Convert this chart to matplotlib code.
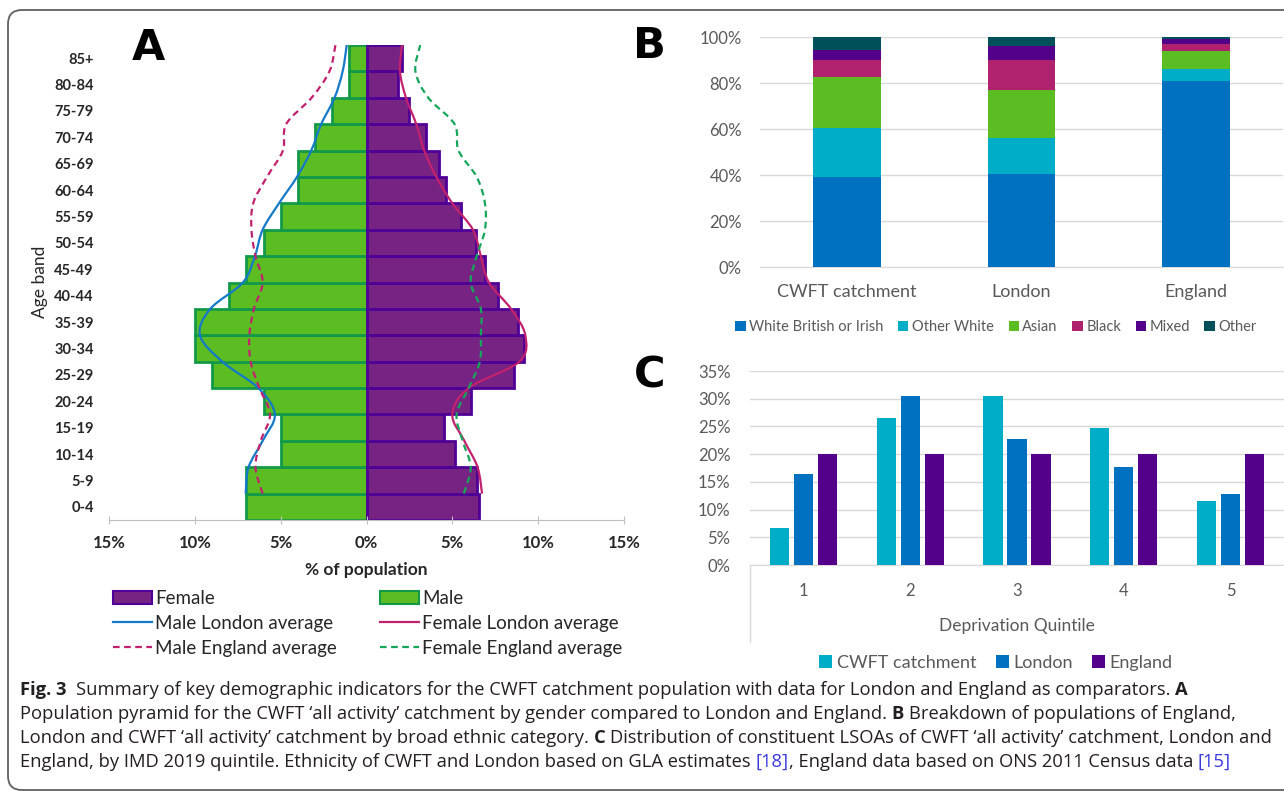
import matplotlib
matplotlib.use("Agg")
import numpy as np
import matplotlib.pyplot as plt
import matplotlib.patches as mpatches
from matplotlib.path import Path
from matplotlib.lines import Line2D
from matplotlib.transforms import IdentityTransform
from matplotlib.font_manager import FontProperties

plt.rcParams['font.family'] = ['Lato', 'DejaVu Sans']

# ---- Panel A: population pyramid (% of population), bottom band first
age_bands = ["0-4", "5-9", "10-14", "15-19", "20-24", "25-29", "30-34", "35-39", "40-44",
             "45-49", "50-54", "55-59", "60-64", "65-69", "70-74", "75-79", "80-84", "85+"]
male_pct = [7, 7, 5, 5, 6, 9, 10, 10, 8, 7, 6, 5, 4, 4, 3, 2, 1, 1]
female_pct = [6.54, 6.42, 5.18, 4.54, 6.09, 8.59, 9.2, 8.82, 7.65, 6.89, 6.38, 5.48,
              4.61, 4.21, 3.48, 2.47, 1.84, 2.07]

# comparator lines (read at the band boundaries, top of 0-4 up to top of 85+)
male_london = [7.04, 6.87, 6.05, 5.34, 6.3, 8.4, 9.7, 9.1, 7.2, 6.5, 6.05, 5.1, 4.05,
               3.22, 2.64, 1.86, 1.39, 1.15]
male_england = [6.05, 6.47, 6.16, 5.62, 6.24, 6.75, 6.82, 6.56, 6.05, 6.47, 6.7, 6.6,
                5.8, 4.87, 4.68, 3.2, 2.16, 1.81]
female_london = [6.73, 6.47, 5.7, 5.0, 5.95, 8.9, 9.25, 8.42, 7.13, 6.66, 6.2, 5.0,
                 4.07, 3.36, 2.9, 2.3, 1.95, 2.07]
female_england = [5.67, 6.07, 5.6, 5.25, 5.95, 6.6, 6.66, 6.66, 6.07, 6.42, 6.9, 6.9,
                  6.42, 5.36, 5.13, 3.6, 2.85, 3.13]
pct_ticks = [-15, -10, -5, 0, 5, 10, 15]

# ---- Panel B: ethnicity breakdown (%)
regions = ["CWFT catchment", "London", "England"]
white_british = [39.1, 40.4, 81.0]
other_white = [21.2, 15.7, 4.9]
asian = [22.2, 20.7, 7.9]
black = [7.4, 13.3, 3.3]
mixed = [4.6, 6.1, 2.0]
other = [5.5, 3.8, 0.9]
ethnic_labels = ["White British or Irish", "Other White", "Asian", "Black", "Mixed", "Other"]

# ---- Panel C: IMD 2019 quintile distribution (%)
quintiles = ["1", "2", "3", "4", "5"]
cwft_q = [6.7, 26.5, 30.4, 24.8, 11.5]
london_q = [16.4, 30.4, 22.7, 17.6, 12.8]
england_q = [20, 20, 20, 20, 20]

W, H = 1284, 791
fig = plt.figure(figsize=(W / 100, H / 100), dpi=100)


def box(l, t, r, b):
    # pixel edges (from top-left) -> figure fraction rect
    return [l / W, 1 - b / H, (r - l) / W, (b - t) / H]


def smooth_path(xs, ys):
    pts = np.column_stack([xs, ys])
    n = len(pts)
    verts = [pts[0]]
    codes = [Path.MOVETO]
    for i in range(n - 1):
        p0 = pts[max(i - 1, 0)]
        p1 = pts[i]
        p2 = pts[i + 1]
        p3 = pts[min(i + 2, n - 1)]
        verts += [p1 + (p2 - p0) / 6, p2 - (p3 - p1) / 6, p2]
        codes += [Path.CURVE4] * 3
    return Path(verts, codes)


dark = "#262626"
gray = "#595959"
grid = "#D9D9D9"

# ================= Panel A
axA = fig.add_axes(box(109, 45, 624, 520))
y = np.arange(len(age_bands))
male_fill, male_edge = "#5CBD22", "#12994A"
fem_fill, fem_edge = "#772383", "#4F0096"
axA.barh(y, [-v for v in male_pct], height=1.0, color=male_fill, edgecolor=male_edge, lw=2)
axA.barh(y, female_pct, height=1.0, color=fem_fill, edgecolor=fem_edge, lw=2)

ly = y + 0.5
c_ml, c_fl, c_me, c_fe = "#1479C8", "#C2216E", "#C2216E", "#16A65A"
axA.add_patch(mpatches.PathPatch(smooth_path([-v for v in male_london], ly),
                                 fill=False, ec=c_ml, lw=1.6))
axA.add_patch(mpatches.PathPatch(smooth_path(female_london, ly), fill=False, ec=c_fl, lw=1.6))
axA.add_patch(mpatches.PathPatch(smooth_path([-v for v in male_england], ly),
                                 fill=False, ec=c_me, lw=1.6, ls=(0, (3, 2))))
axA.add_patch(mpatches.PathPatch(smooth_path(female_england, ly),
                                 fill=False, ec=c_fe, lw=1.6, ls=(0, (3, 2))))

axA.set_xlim(-15, 15)
axA.set_ylim(-0.5, 17.5)
axA.set_xticks(pct_ticks)
axA.set_xticklabels([f"{abs(v)}%" for v in pct_ticks], fontsize=12, fontweight='bold', color=dark)
axA.set_yticks(y)
axA.set_yticklabels(age_bands, fontsize=10.5, fontweight='bold', color=dark)
axA.tick_params(axis='y', length=0, pad=11)
axA.tick_params(axis='x', direction='inout', length=6, color="#BFBFBF", pad=8)
for s in ["top", "right", "left"]:
    axA.spines[s].set_visible(False)
axA.spines["bottom"].set_color("#BFBFBF")
axA.set_xlabel("% of population", fontsize=12.5, fontweight='bold', color=dark, labelpad=8)
fig.text(40 / W, 1 - 282 / H, "Age band", rotation=90, fontsize=12.5, color=dark,
         ha='center', va='center')

handles = [
    mpatches.Patch(facecolor=fem_fill, edgecolor=fem_edge, lw=1.5),
    Line2D([], [], color=c_ml, lw=1.6),
    Line2D([], [], color=c_me, lw=1.6, ls=(0, (3, 2))),
    mpatches.Patch(facecolor=male_fill, edgecolor=male_edge, lw=1.5),
    Line2D([], [], color=c_fl, lw=1.6),
    Line2D([], [], color=c_fe, lw=1.6, ls=(0, (3, 2))),
]
labels = ["Female", "Male London average", "Male England average",
          "Male", "Female London average", "Female England average"]
fig.legend(handles, labels, ncol=2, loc='upper left', bbox_to_anchor=(113 / W, 1 - 590 / H),
           frameon=False, fontsize=13.5, handlelength=2.1, handletextpad=0.15,
           columnspacing=2.3, labelspacing=0.42, borderpad=0, borderaxespad=0,
           labelcolor=dark)

# ================= Panel B
axB = fig.add_axes(box(760, 37, 1283, 267))
xb = np.arange(len(regions))
eth_cols = ["#0070C0", "#00ADC6", "#5BBD22", "#B0226E", "#53008A", "#00505A"]
bottom = np.zeros(len(regions))
for vals, col, lab in zip([white_british, other_white, asian, black, mixed, other],
                          eth_cols, ethnic_labels):
    axB.bar(xb, vals, width=0.39, bottom=bottom, color=col, label=lab, zorder=3)
    bottom += np.array(vals)
axB.set_xlim(-0.5, 2.5)
axB.set_ylim(0, 100)
axB.set_yticks(range(0, 101, 20))
axB.set_yticklabels([f"{v}%" for v in range(0, 101, 20)], fontsize=12, color=gray)
axB.set_xticks(xb)
axB.set_xticklabels(regions, fontsize=13, color=gray)
axB.tick_params(axis='y', length=0, pad=13)
axB.tick_params(axis='x', length=0, pad=12)
axB.grid(axis='y', color=grid, lw=1, zorder=0)
for s in ["top", "right", "left"]:
    axB.spines[s].set_visible(False)
axB.spines["bottom"].set_color(grid)
fig.legend(*axB.get_legend_handles_labels(), ncol=6, loc='center',
           bbox_to_anchor=(996 / W, 1 - 327 / H), frameon=False, fontsize=10.5,
           handlelength=0.7, handleheight=0.7, handletextpad=0.25, columnspacing=1.0,
           labelcolor=gray, borderpad=0)

# ================= Panel C
axC = fig.add_axes(box(750, 371, 1284, 565))
xc = np.arange(len(quintiles))
axC.bar(xc - 0.224, cwft_q, width=0.18, color="#00ADC6", label="CWFT catchment", zorder=3)
axC.bar(xc, london_q, width=0.18, color="#0070C0", label="London", zorder=3)
axC.bar(xc + 0.224, england_q, width=0.18, color="#53008A", label="England", zorder=3)
axC.set_xlim(-0.5, 4.5)
axC.set_ylim(0, 35)
axC.set_yticks(range(0, 36, 5))
axC.set_yticklabels([f"{v}%" for v in range(0, 36, 5)], fontsize=12, color=gray)
axC.set_xticks(xc)
axC.set_xticklabels(quintiles, fontsize=12, color=gray)
axC.tick_params(axis='y', length=0, pad=14)
axC.tick_params(axis='x', length=0, pad=13)
axC.grid(axis='y', color=grid, lw=1, zorder=0)
for s in ["top", "right", "left"]:
    axC.spines[s].set_visible(False)
axC.spines["bottom"].set_color(grid)
axC.plot([0, 0], [0, -(642 - 565) / (565 - 371)], transform=axC.transAxes,
         color=grid, lw=1, clip_on=False)
axC.set_xlabel("Deprivation Quintile", fontsize=12.5, color=gray, labelpad=14)
fig.legend(*axC.get_legend_handles_labels(), ncol=3, loc='center',
           bbox_to_anchor=(996 / W, 1 - 663 / H), frameon=False, fontsize=13,
           handlelength=0.7, handleheight=0.7, handletextpad=0.25, columnspacing=1.1,
           labelcolor=gray, borderpad=0)

# panel letters
for letter, xp, yp in [("A", 148, 60), ("B", 649, 58), ("C", 650, 387)]:
    fig.text(xp / W, 1 - yp / H, letter, fontsize=31, fontweight='heavy',
             family='DejaVu Sans', ha='center', va='baseline', color='black')

# outer frame
fig.patches.append(mpatches.FancyBboxPatch((8, 1), 1300, H - 11,
                                           boxstyle='round,pad=0,rounding_size=14',
                                           transform=IdentityTransform(), fill=False,
                                           ec="#606060", lw=1.3, figure=fig))

# caption
renderer = fig.canvas.get_renderer()
cap_color = "#231F20"
ref_color = "#3A3AE0"
cap_lines = [
    [("Fig. 3", 'bold', cap_color),
     ("  Summary of key demographic indicators for the CWFT catchment population with data for London and England as comparators. ", 'normal', cap_color),
     ("A", 'bold', cap_color)],
    [("Population pyramid for the CWFT \u2018all activity\u2019 catchment by gender compared to London and England. ", 'normal', cap_color),
     ("B", 'bold', cap_color),
     (" Breakdown of populations of England,", 'normal', cap_color)],
    [("London and CWFT \u2018all activity\u2019 catchment by broad ethnic category. ", 'normal', cap_color),
     ("C", 'bold', cap_color),
     (" Distribution of constituent LSOAs of CWFT \u2018all activity\u2019 catchment, London and", 'normal', cap_color)],
    [("England, by IMD 2019 quintile. Ethnicity of CWFT and London based on GLA estimates ", 'normal', cap_color),
     ("[18]", 'normal', ref_color),
     (", England data based on ONS 2011 Census data ", 'normal', cap_color),
     ("[15]", 'normal', ref_color)],
]


def seg_width(s, fp):
    w1, _, _ = renderer.get_text_width_height_descent('x' + s + 'x', fp, ismath=False)
    w2, _, _ = renderer.get_text_width_height_descent('xx', fp, ismath=False)
    return w1 - w2


def line_width(segs, fs):
    return sum(seg_width(s, FontProperties(family='Open Sans', weight=wt, size=fs))
               for s, wt, _ in segs)


cap_fs = 10 * 1255 / line_width(cap_lines[2], 10)
for i, segs in enumerate(cap_lines):
    xpos = 20
    ybase = 695 + i * 24
    for s, wt, col in segs:
        fp = FontProperties(family='Open Sans', weight=wt, size=cap_fs)
        lead = len(s) - len(s.lstrip())
        fig.text((xpos + seg_width(s[:lead], fp)) / W, 1 - ybase / H, s.strip(),
                 fontproperties=fp, color=col, ha='left', va='baseline')
        xpos += seg_width(s, fp)

fig.savefig("out.png", dpi=100)
